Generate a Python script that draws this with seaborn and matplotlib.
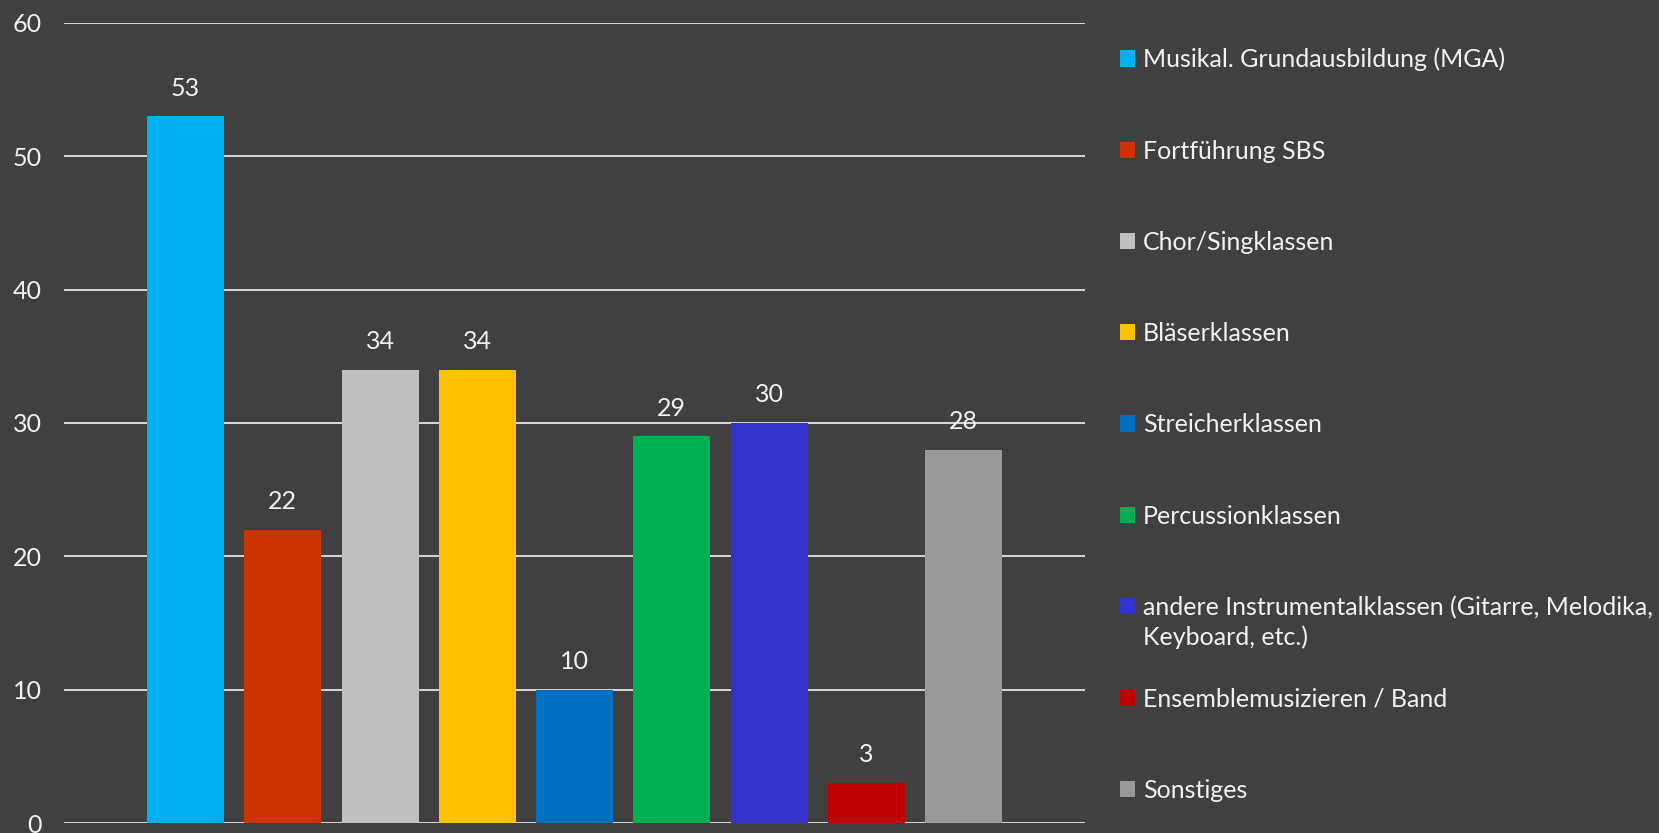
import pandas as pd
import numpy as np
import matplotlib
matplotlib.use("Agg")
import matplotlib.pyplot as plt
import seaborn as sns

categories = [
    "Musikal. Grundausbildung (MGA)",
    "Fortführung SBS",
    "Chor/Singklassen",
    "Bläserklassen",
    "Streicherklassen",
    "Percussionklassen",
    "andere Instrumentalklassen (Gitarre, Melodika,",
    "Ensemblemusizieren / Band",
    "Sonstiges",
]
# second line of the long legend entry (Excel wraps it)
wrap_line = "Keyboard, etc.)"
values = [53, 22, 34, 34, 10, 29, 30, 3, 28]
colors = ["#00B0F0", "#CC3300", "#BFBFBF", "#FFC000", "#0070C0",
          "#00B050", "#3333CC", "#C00000", "#999999"]
y_ticks = [0, 10, 20, 30, 40, 50, 60]

bg = "#404040"
txt = "#F2F2F2"
grid = "#D9D9D9"

sns.set_theme(style="white")
plt.rcParams["font.family"] = ["Lato", "DejaVu Sans"]
plt.rcParams["patch.edgecolor"] = "none"

df = pd.DataFrame({"cat": categories, "val": values})

fig = plt.figure(figsize=(16.59, 8.33), dpi=100, facecolor=bg)
ax = fig.add_axes([0.0386, 0.012, 0.6155, 0.9604])
ax.set_facecolor(bg)

sns.barplot(data=df, x="cat", y="val", hue="cat", palette=colors,
            dodge=False, width=0.79, saturation=1, legend=True, ax=ax,
            linewidth=0, edgecolor="none", zorder=3)

for c in ax.containers:
    ax.bar_label(c, padding=12, color=txt, fontsize=18)

ax.set_ylim(0, 60)
ax.set_xlim(-1.25, 9.25)
ax.set_yticks(y_ticks)
ax.yaxis.grid(True, color=grid, linewidth=1.4, zorder=0)
ax.set_axisbelow(True)
ax.set_xticks([])
ax.set_xlabel("")
ax.set_ylabel("")
ax.tick_params(axis="y", length=0, pad=16, labelsize=18, labelcolor=txt)
for s in ax.spines.values():
    s.set_visible(False)

leg = ax.legend(loc="upper left", bbox_to_anchor=(1.034, 0.969), frameon=False,
                fontsize=18, labelcolor=txt, handlelength=0.62, handleheight=0.62,
                handletextpad=0.3, labelspacing=2.73, borderaxespad=0, borderpad=0)
for h in leg.legend_handles:
    h.set_edgecolor("none")
    h.set_linewidth(0)

# put the wrapped second line under the long entry
fig.canvas.draw()
t = leg.get_texts()[6]
bb = t.get_window_extent().transformed(fig.transFigure.inverted())
fig.text(bb.x0, bb.y0 - 0.008, wrap_line, color=txt, fontsize=18,
         ha="left", va="top", fontfamily=["Lato", "DejaVu Sans"])

fig.savefig("out.png", dpi=100, facecolor=bg)
